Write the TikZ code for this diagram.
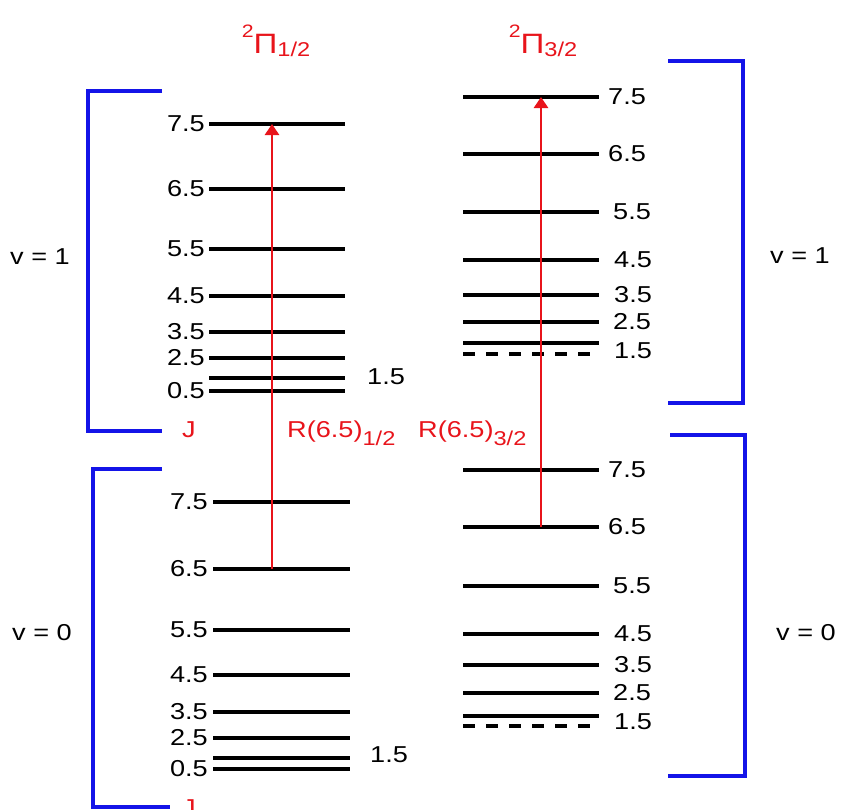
\documentclass[tikz,border=0pt]{standalone}
\usepackage{fontspec}
\setmainfont{Liberation Sans}[FakeStretch=1.18]
\usetikzlibrary{arrows.meta}
\definecolor{jBlue}{HTML}{1414E8}
\definecolor{jRed}{HTML}{E8141B}
\tikzset{
  level/.style={line width=3.4pt,draw=black},
  dlevel/.style={level,dash pattern=on 12pt off 11pt},
  bracket/.style={line width=3.4pt,draw=jBlue},
  trans/.style={-{Triangle[length=11pt,width=14pt]},line width=2.6pt,draw=jRed},
  jlab/.style={font=\fontsize{23}{26}\selectfont,inner sep=0pt},
  redlab/.style={jlab,text=jRed},
  vlab/.style={jlab}
}
\newcommand{\smallfs}{\fontsize{20}{20}\selectfont}
\newcommand{\supfs}{\fontsize{18}{18}\selectfont}

\begin{document}
\begin{tikzpicture}[x=1pt,y=-1pt]
  \clip (0,0) rectangle (841,809);

  % titles
  \node[redlab,anchor=base] (t12) at (276,53)
    {{\supfs\raisebox{16pt}{2}}{\fontsize{28}{28}\selectfont Π}{\smallfs\raisebox{-3pt}{1/2}}};
  \node[redlab,anchor=base] (t32) at (543,53)
    {{\supfs\raisebox{16pt}{2}}{\fontsize{28}{28}\selectfont Π}{\smallfs\raisebox{-3pt}{3/2}}};

  % 2Pi 1/2, v = 1
  \foreach \n/\j/\y in {a/7.5/124,b/6.5/189,c/5.5/249,d/4.5/296,e/3.5/332,f/2.5/358,h/0.5/391} {
    \draw[level] (209,\y) -- (345,\y);
    \node[jlab,anchor=east] (L1\n) at (205,\y) {\j};
  }
  \draw[level] (209,378) -- (345,378);
  \node[jlab,anchor=west] (L1g) at (367,377) {1.5};

  % 2Pi 1/2, v = 0
  \foreach \n/\j/\y in {a/7.5/502,b/6.5/569,c/5.5/630,d/4.5/675,e/3.5/712,f/2.5/738,h/0.5/769} {
    \draw[level] (213,\y) -- (350,\y);
    \node[jlab,anchor=east] (L0\n) at (208,\y) {\j};
  }
  \draw[level] (213,758) -- (350,758);
  \node[jlab,anchor=west] (L0g) at (370,755) {1.5};

  % 2Pi 3/2, v = 1
  \foreach \n/\j/\y/\x in {a/7.5/97/608,b/6.5/154/608,c/5.5/212/613,d/4.5/260/614,e/3.5/295/614,f/2.5/322/613} {
    \draw[level] (463,\y) -- (599,\y);
    \node[jlab,anchor=west] (R1\n) at (\x,\y) {\j};
  }
  \draw[level] (463,343) -- (599,343);
  \draw[dlevel] (463,354) -- (599,354);
  \node[jlab,anchor=west] (R1g) at (614,351) {1.5};

  % 2Pi 3/2, v = 0
  \foreach \n/\j/\y/\x in {a/7.5/470/608,b/6.5/527/608,c/5.5/586/613,d/4.5/634/614,e/3.5/665/614,f/2.5/693/613} {
    \draw[level] (463,\y) -- (599,\y);
    \node[jlab,anchor=west] (R0\n) at (\x,\y) {\j};
  }
  \draw[level] (463,716) -- (599,716);
  \draw[dlevel] (463,726) -- (599,726);
  \node[jlab,anchor=west] (R0g) at (614,722) {1.5};

  % transitions
  \coordinate (lo12) at (272,569);
  \coordinate (up12) at (272,124);
  \coordinate (lo32) at (541,527);
  \coordinate (up32) at (541,97);
  \draw[trans] (lo12) -- (up12);
  \draw[trans] (lo32) -- (up32);
  \node[redlab,anchor=base west] (r12) at (287,437)
    {R(6.5)\raisebox{-8pt}{\smallfs 1/2}};
  \node[redlab,anchor=base west] (r32) at (418,437)
    {R(6.5)\raisebox{-8pt}{\smallfs 3/2}};

  % vibrational brackets
  \draw[bracket] (162,91) -- (88,91) -- (88,431) -- (162,431);
  \draw[bracket] (162,469) -- (93,469) -- (93,807) -- (170,807);
  \draw[bracket] (668,61) -- (743,61) -- (743,403) -- (668,403);
  \draw[bracket] (670,435) -- (745,435) -- (745,776) -- (668,776);
  \node[redlab,anchor=base west] (J1) at (182,437) {J};
  \node[redlab,anchor=base west] (J0) at (182,815) {J};

  \node[vlab] (v1l) at (40,257) {v = 1};
  \node[vlab] (v0l) at (42,633) {v = 0};
  \node[vlab] (v1r) at (800,256) {v = 1};
  \node[vlab] (v0r) at (806,633) {v = 0};
\end{tikzpicture}
\end{document}
